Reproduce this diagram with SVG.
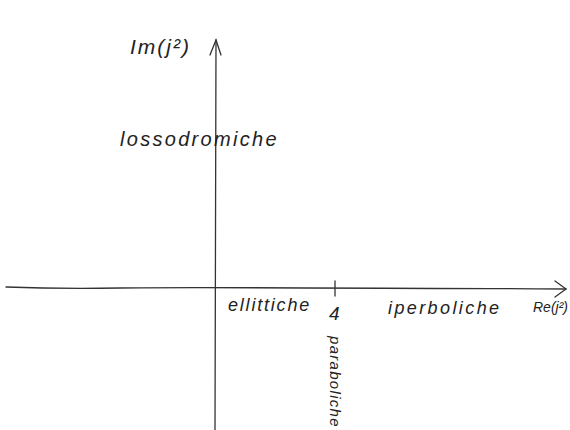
<svg xmlns="http://www.w3.org/2000/svg" width="570" height="430" viewBox="0 0 570 430">
<style>
.ax{stroke:#333;stroke-width:1.3;fill:none;stroke-linecap:round}
.t{font-family:"Liberation Sans",sans-serif;font-style:italic;fill:#222}
</style>
<rect width="570" height="430" fill="#fff"/>
<g id="connectors">
<path class="ax" d="M6 287 Q60 289 120 288 T566 289"/>
<path class="ax" d="M555 281 L566 289 L555 297"/>
<path class="ax" d="M215 430 L216 40"/>
<path class="ax" d="M210 55 L216 40 L221 55"/>
<path class="ax" d="M335 281 L335 296"/>
</g>
<g id="im-label"><text class="t" x="130" y="54" font-size="21" letter-spacing="2">Im(j²)</text></g>
<g id="lossodromiche"><text class="t" x="120" y="146" font-size="20" letter-spacing="2.3">lossodromiche</text></g>
<g id="ellittiche"><text class="t" x="228" y="311" font-size="18" letter-spacing="1.8">ellittiche</text></g>
<g id="four"><text class="t" x="329" y="320" font-size="19">4</text></g>
<g id="paraboliche"><text class="t" x="0" y="0" transform="translate(330 336) rotate(90)" font-size="15" letter-spacing="1.3">paraboliche</text></g>
<g id="iperboliche"><text class="t" x="388" y="314" font-size="18" letter-spacing="2.4">iperboliche</text></g>
<g id="re-label"><text class="t" x="533" y="312" font-size="14">Re(j²)</text></g>
</svg>
